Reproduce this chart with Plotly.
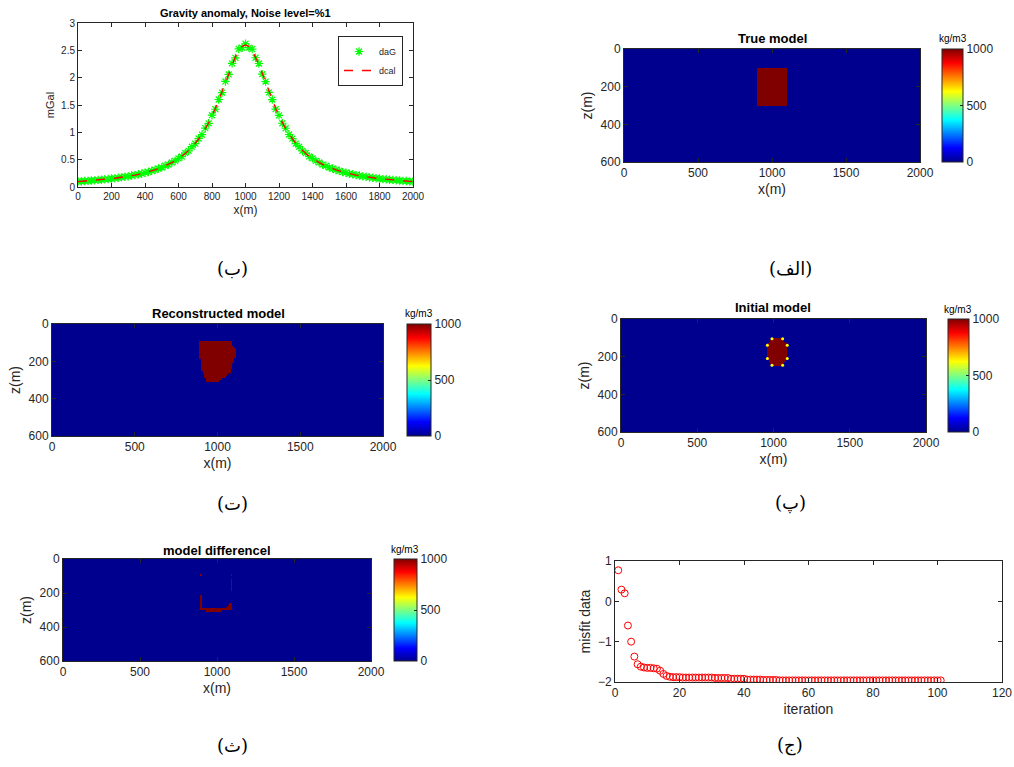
import plotly.graph_objects as go

# ---------------- data ----------------
grav_x = list(range(0, 2001, 20))
daG = [0.102, 0.101, 0.110, 0.112, 0.119, 0.121, 0.130, 0.132, 0.141, 0.145,
       0.155, 0.158, 0.170, 0.176, 0.188, 0.194, 0.209, 0.217, 0.233, 0.243,
       0.262, 0.274, 0.297, 0.311, 0.338, 0.356, 0.389, 0.409, 0.449, 0.477,
       0.525, 0.559, 0.619, 0.662, 0.737, 0.792, 0.887, 0.958, 1.076, 1.165,
       1.313, 1.422, 1.601, 1.728, 1.931, 2.059, 2.263, 2.361, 2.525, 2.548,
       2.620,
       2.551, 2.523, 2.364, 2.259, 2.063, 1.929, 1.731, 1.600, 1.423, 1.311,
       1.166, 1.075, 0.960, 0.886, 0.793, 0.737, 0.662, 0.619, 0.559, 0.525,
       0.477, 0.449, 0.410, 0.388, 0.356, 0.338, 0.311, 0.297, 0.273, 0.262,
       0.243, 0.233, 0.217, 0.209, 0.194, 0.188, 0.175, 0.170, 0.158, 0.155,
       0.144, 0.141, 0.132, 0.130, 0.121, 0.119, 0.112, 0.110, 0.102, 0.101]
dcal = [0.100, 0.104, 0.108, 0.113, 0.117, 0.122, 0.128, 0.133, 0.139, 0.146,
        0.153, 0.160, 0.168, 0.177, 0.186, 0.196, 0.207, 0.219, 0.231, 0.245,
        0.260, 0.276, 0.294, 0.314, 0.335, 0.359, 0.385, 0.413, 0.445, 0.481,
        0.520, 0.564, 0.613, 0.668, 0.730, 0.800, 0.878, 0.967, 1.066, 1.176,
        1.300, 1.436, 1.585, 1.745, 1.912, 2.080, 2.241, 2.385, 2.500, 2.574,
        2.600,
        2.574, 2.500, 2.385, 2.241, 2.080, 1.912, 1.745, 1.585, 1.436, 1.300,
        1.176, 1.066, 0.967, 0.878, 0.800, 0.730, 0.668, 0.613, 0.564, 0.520,
        0.481, 0.445, 0.413, 0.385, 0.359, 0.335, 0.314, 0.294, 0.276, 0.260,
        0.245, 0.231, 0.219, 0.207, 0.196, 0.186, 0.177, 0.168, 0.160, 0.153,
        0.146, 0.139, 0.133, 0.128, 0.122, 0.117, 0.113, 0.108, 0.104, 0.100]

iteration = list(range(1, 102))
misfit = [0.77, 0.29, 0.20, -0.60, -1.00, -1.37, -1.56, -1.62, -1.64, -1.65,
          -1.65, -1.66, -1.67, -1.72, -1.80, -1.85, -1.87, -1.88, -1.88, -1.88,
          -1.89, -1.89, -1.89, -1.89, -1.89, -1.89, -1.89, -1.89, -1.89, -1.89,
          -1.90, -1.90, -1.90, -1.90, -1.90, -1.92, -1.92, -1.92, -1.92, -1.92,
          -1.94, -1.94, -1.94, -1.94, -1.94, -1.95, -1.95, -1.95, -1.95, -1.95,
          -1.96, -1.96, -1.96, -1.96, -1.96, -1.96, -1.96, -1.96, -1.96, -1.96,
          -1.96, -1.96, -1.96, -1.96, -1.96, -1.96, -1.96, -1.96, -1.96, -1.96,
          -1.96, -1.96, -1.96, -1.96, -1.96, -1.96, -1.96, -1.96, -1.96, -1.96,
          -1.96, -1.96, -1.96, -1.96, -1.96, -1.96, -1.96, -1.96, -1.96, -1.96,
          -1.96, -1.96, -1.96, -1.96, -1.96, -1.96, -1.96, -1.96, -1.96, -1.96,
          -1.96]

cell_x = list(range(5, 2000, 10))
cell_z = list(range(5, 600, 10))
density = 1000

true_x = [900, 1100]
true_z = [100, 300]

recon_z_top = [90, 100, 110, 120, 130, 140, 150, 160, 170, 180, 190,
               200, 210, 220, 230, 240, 250, 260, 270, 280, 290, 300]
recon_x_left = [890, 890, 890, 890, 890, 890, 890, 890, 890, 890, 900,
                900, 900, 900, 900, 900, 910, 910, 920, 920, 930, 930]
recon_x_right = [1090, 1090, 1090, 1100, 1110, 1110, 1110, 1110, 1110, 1100, 1100,
                 1100, 1090, 1090, 1090, 1080, 1080, 1070, 1060, 1050, 1030, 1010]

init_z_top = [100, 110, 120, 130, 140, 150, 160, 170, 180, 190, 200, 210, 220, 230, 240]
init_x_left = [990, 980, 970, 960, 960, 960, 960, 960, 960, 960, 960, 960, 970, 980, 990]
init_x_right = [1060, 1070, 1080, 1090, 1090, 1090, 1090, 1090, 1090, 1090, 1090, 1090, 1080, 1070, 1060]
init_vert_x = [990, 1060, 1090, 1090, 1060, 990, 960, 960]
init_vert_z = [105, 105, 140, 210, 245, 245, 210, 140]

diff_x0 = [890, 1090, 1090, 890, 1080, 1070, 1060, 890, 930]
diff_x1 = [900, 1100, 1100, 900, 1100, 1100, 1100, 1100, 1030]
diff_z0 = [90, 90, 120, 210, 260, 270, 280, 290, 300]
diff_z1 = [100, 100, 190, 300, 270, 280, 290, 300, 310]


def grid_rects(x0s, x1s, z0s, z1s):
    m = [[0 for _ in cell_x] for _ in cell_z]
    for a, b, c, d in zip(x0s, x1s, z0s, z1s):
        for i, zc in enumerate(cell_z):
            if c <= zc < d:
                for j, xc in enumerate(cell_x):
                    if a <= xc < b:
                        m[i][j] = density
    return m


def grid_rows(z_top, xl, xr):
    return grid_rects(xl, xr, z_top, [z + 10 for z in z_top])


true_grid = grid_rects([true_x[0]], [true_x[1]], [true_z[0]], [true_z[1]])
recon_grid = grid_rows(recon_z_top, recon_x_left, recon_x_right)
init_grid = grid_rows(init_z_top, init_x_left, init_x_right)
diff_grid = grid_rects(diff_x0, diff_x1, diff_z0, diff_z1)

# ---------------- layout helpers ----------------
W, H = 1014, 767
FONT = "Liberation Sans, Arial, sans-serif"
AX = "#262626"
jet = [[0, "#00008F"], [0.125, "#0000FF"], [0.375, "#00FFFF"],
       [0.625, "#FFFF00"], [0.875, "#FF0000"], [1, "#800000"]]


def xd(a, b):
    return [a / W, b / W]


def yd(top, bottom):
    return [1 - bottom / H, 1 - top / H]


def axis(dom, anchor, rng, tickvals, size, title=None, tsize=13, **kw):
    d = dict(domain=dom, anchor=anchor, range=rng, tickvals=tickvals,
             showline=True, linecolor=AX, linewidth=1, mirror="ticks",
             ticks="inside", ticklen=4, tickcolor=AX, showgrid=False,
             zeroline=False, automargin=False,
             tickfont=dict(size=size, color=AX, family=FONT))
    if title:
        d["title"] = dict(text=title, font=dict(size=tsize, color=AX, family=FONT), standoff=4)
    d.update(kw)
    return d


def cbar(x0, x1, top, bottom):
    return dict(x=x0 / W, xanchor="left", y=1 - (top + bottom) / 2 / H, yanchor="middle",
                len=(bottom - top) / H, lenmode="fraction", thickness=x1 - x0,
                thicknessmode="pixels", xpad=0, ypad=0, outlinewidth=1, outlinecolor=AX,
                tickvals=[0, 500, 1000], ticks="inside", ticklen=3, tickcolor=AX,
                tickfont=dict(size=12, color=AX, family=FONT))


fig = go.Figure()

# Gravity panel
fig.add_trace(go.Scatter(x=grav_x, y=daG, mode="markers", name="daG", xaxis="x", yaxis="y",
                         marker=dict(symbol="asterisk-open", size=7, color="#00FF00",
                                     line=dict(color="#00FF00", width=1.2))))
fig.add_trace(go.Scatter(x=grav_x, y=dcal, mode="lines", name="dcal", xaxis="x", yaxis="y",
                         line=dict(color="#FF0000", dash="dash", width=1.3)))

# Heatmaps
panels = [
    (true_grid, "x2", "y2", (942, 963, 49, 162)),
    (recon_grid, "x3", "y3", (407, 431, 324, 436)),
    (init_grid, "x4", "y4", (948, 969, 319, 432)),
    (diff_grid, "x5", "y5", (394, 417, 559, 661)),
]
for g, xa, ya, cb in panels:
    fig.add_trace(go.Heatmap(x=cell_x, y=cell_z, z=g, xaxis=xa, yaxis=ya, zmin=0, zmax=1000,
                             colorscale=jet, zsmooth=False, showlegend=False,
                             colorbar=cbar(*cb)))

fig.add_trace(go.Scatter(x=init_vert_x, y=init_vert_z, mode="markers", xaxis="x4", yaxis="y4",
                         showlegend=False, marker=dict(color="#FFFF00", size=3)))

# Misfit
fig.add_trace(go.Scatter(x=iteration, y=misfit, mode="markers", xaxis="x6", yaxis="y6",
                         showlegend=False,
                         marker=dict(symbol="circle-open", size=7, color="#FF0000",
                                     line=dict(color="#FF0000", width=1))))

xt = [0, 500, 1000, 1500, 2000]
zt = [0, 200, 400, 600]
layout = dict(
    width=W, height=H, autosize=False,
    margin=dict(l=0, r=0, t=0, b=0, pad=0, autoexpand=False),
    paper_bgcolor="white", plot_bgcolor="white",
    font=dict(family=FONT, color=AX),
    xaxis=axis(xd(78, 413), "y", [0, 2000], list(range(0, 2001, 200)), 10, "x(m)", 12),
    yaxis=axis(yd(23, 187), "x", [0, 3], [0, 0.5, 1, 1.5, 2, 2.5, 3], 10, "mGal", 11),
    xaxis2=axis(xd(624, 920), "y2", [0, 2000], xt, 12, "x(m)", 14),
    yaxis2=axis(yd(49, 162), "x2", [600, 0], zt, 12, "z(m)", 14),
    xaxis3=axis(xd(52, 383), "y3", [0, 2000], xt, 12, "x(m)", 14),
    yaxis3=axis(yd(324, 436), "x3", [600, 0], zt, 12, "z(m)", 14),
    xaxis4=axis(xd(621, 926), "y4", [0, 2000], xt, 12, "x(m)", 14),
    yaxis4=axis(yd(319, 432), "x4", [600, 0], zt, 12, "z(m)", 14),
    xaxis5=axis(xd(63, 371), "y5", [0, 2000], xt, 12, "x(m)", 14),
    yaxis5=axis(yd(559, 661), "x5", [600, 0], zt, 12, "z(m)", 14),
    xaxis6=axis(xd(615, 1002), "y6", [0, 120], list(range(0, 121, 20)), 12, "iteration", 14),
    yaxis6=axis(yd(561, 682), "x6", [-2, 1], [-2, -1, 0, 1], 12, "misfit data", 14),
    legend=dict(x=403 / W, xanchor="right", y=1 - 36 / H, yanchor="top",
                bordercolor=AX, borderwidth=1, bgcolor="white",
                font=dict(size=9, color=AX, family=FONT), tracegroupgap=0,
                itemwidth=30),
)
fig.update_layout(**layout)

ann = []
titles = [("Gravity anomaly, Noise level=%1", 245, 13, 11),
          ("True model", 772, 38, 13),
          ("Reconstructed model", 218, 313, 13),
          ("Initial model", 773, 308, 13),
          ("model differencel", 217, 550, 13)]
for t, x, y, s in titles:
    ann.append(dict(text="<b>" + t + "</b>", x=x / W, y=1 - y / H, xref="paper", yref="paper",
                    showarrow=False, xanchor="center", yanchor="middle",
                    font=dict(size=s, color="#000000", family=FONT)))
units = [(953, 38), (419, 313), (958, 309), (405, 549)]
for x, y in units:
    ann.append(dict(text="kg/m3", x=x / W, y=1 - y / H, xref="paper", yref="paper",
                    showarrow=False, xanchor="center", yanchor="middle",
                    font=dict(size=10, color="#000000", family=FONT)))
captions = [("(ب)", 232, 268), ("(الف)", 790, 268), ("(ت)", 232, 503),
            ("(پ)", 790, 503), ("(ث)", 232, 745), ("(ج)", 790, 745)]
for t, x, y in captions:
    ann.append(dict(text=t, x=x / W, y=1 - y / H, xref="paper", yref="paper",
                    showarrow=False, xanchor="center", yanchor="middle",
                    font=dict(size=18, color="#000000", family="DejaVu Serif, DejaVu Sans, serif")))
fig.update_layout(annotations=ann)

fig.write_html("out.html")
